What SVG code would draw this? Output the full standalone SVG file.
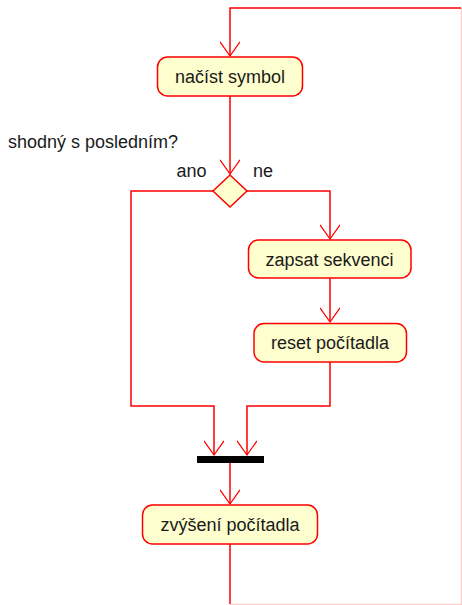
<svg xmlns="http://www.w3.org/2000/svg" width="462" height="605" viewBox="0 0 462 605">
<defs>
<style>
.node{fill:#FEFECE;stroke:#FF0000;stroke-width:1.5}
.edge{fill:none;stroke:#FF0000;stroke-width:1.5}
.faint{fill:none;stroke:#FF0000;stroke-width:1.5;stroke-opacity:0.2}
.lbl{font-family:"Liberation Sans",Arial,sans-serif;font-size:18px;fill:#1a1a1a}
.mid{text-anchor:middle}
</style>
<marker id="arr" markerWidth="26" markerHeight="20" refX="17" refY="12" orient="auto" markerUnits="userSpaceOnUse" viewBox="0 0 26 24">
<path d="M0,0 L17,12 L0,24" fill="none" stroke="#FF0000" stroke-width="1.5"/>
</marker>
</defs>
<rect width="462" height="605" fill="#FFFFFF"/>
<g id="connectors">
<path class="edge" d="M461,8 L230,8 L230,56" marker-end="url(#arr)"/>
<path class="faint" d="M230,604.5 L461.5,604.5 L461.5,8"/>
<path class="edge" d="M230,96 L230,174" marker-end="url(#arr)"/>
<path class="edge" d="M247,191 L330,191 L330,239" marker-end="url(#arr)"/>
<path class="edge" d="M330,278 L330,322" marker-end="url(#arr)"/>
<path class="edge" d="M213,191 L131,191 L131,406 L214,406 L214,455" marker-end="url(#arr)"/>
<path class="edge" d="M330,362 L330,406 L247,406 L247,455" marker-end="url(#arr)"/>
<path class="edge" d="M230,463 L230,504" marker-end="url(#arr)"/>
<path class="edge" d="M230,544 L230,604"/>
</g>
<g id="nacist">
<rect class="node" x="157.5" y="57" width="145" height="39" rx="10"/>
<text class="lbl mid" x="230" y="83">načíst symbol</text>
</g>
<g id="decision">
<polygon class="node" points="230,175 247,191 230,207 213,191"/>
<text class="lbl" x="8" y="148">shodný s posledním?</text>
<text class="lbl" x="176.5" y="177">ano</text>
<text class="lbl" x="253" y="177">ne</text>
</g>
<g id="zapsat">
<rect class="node" x="248.5" y="240" width="162.5" height="38" rx="10"/>
<text class="lbl mid" x="329.5" y="265.5">zapsat sekvenci</text>
</g>
<g id="reset">
<rect class="node" x="254" y="323.5" width="152.5" height="38.5" rx="10"/>
<text class="lbl mid" x="330" y="349">reset počítadla</text>
</g>
<g id="join">
<rect x="197" y="456" width="67" height="7" fill="#000000"/>
</g>
<g id="zvyseni">
<rect class="node" x="142.5" y="505" width="175" height="39" rx="10"/>
<text class="lbl mid" x="230" y="531">zvýšení počítadla</text>
</g>
</svg>
